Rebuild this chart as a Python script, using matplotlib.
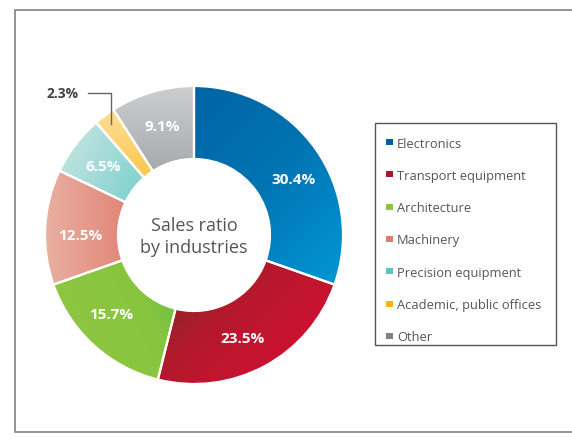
import numpy as np
import matplotlib.pyplot as plt
from matplotlib.colors import LinearSegmentedColormap
from matplotlib.patches import Rectangle

plt.rcParams['font.family'] = ['Open Sans', 'DejaVu Sans']

# data
industries = ['Electronics', 'Transport equipment', 'Architecture', 'Machinery',
              'Precision equipment', 'Academic, public offices', 'Other']
shares = [30.4, 23.5, 15.7, 12.5, 6.5, 2.3, 9.1]
legend_colors = ['#00609c', '#a8182a', '#8dc63f', '#e07b72', '#5bc4c1', '#fdb515', '#808285']

# gradient stops and direction for each wedge
grad_stops = [
    ['#0064a4', '#0074b3', '#0096d3'],
    ['#7a2c1f', '#b4192c', '#cc1230'],
    ['#8dc63f', '#88c540', '#4cb848'],
    ['#e9b0a2', '#e2897b', '#da7062'],
    ['#bce2df', '#86d2cf', '#58c3bf'],
    ['#fedd93', '#fdc750', '#fbb214'],
    ['#cdcecf', '#adaeb0', '#87888a'],
]
grad_dirs = [(1, -1), (1, -1), (1, 0.5), (1, 0), (1, -0.6), (0.3, -1), (0, -1)]
# small nudges of label angle (degrees), as in the original layout
label_nudge = [-6, -3, -4, 3, 0, 0, 0]

W, H = 572, 439
fig = plt.figure(figsize=(W / 100, H / 100), dpi=100)
ax = fig.add_axes([0, 0, 1, 1])

cx, cy = 194, H - 236
R = 149
ring = 73

wedges, _ = ax.pie(shares, startangle=90, counterclock=False, center=(cx, cy), radius=R,
                   wedgeprops=dict(width=ring, edgecolor='white', linewidth=1.6))
ax.set_xlim(0, W)
ax.set_ylim(0, H)
ax.set_aspect('equal')
ax.axis('off')

# gradient fills clipped to each wedge
gx, gy = np.meshgrid(np.linspace(cx - R, cx + R, 400), np.linspace(cy - R, cy + R, 400))
for w, stops, d in zip(wedges, grad_stops, grad_dirs):
    d = np.array(d, float) / np.hypot(*d)
    verts = w.get_path().vertices
    proj = verts @ d
    t = ((gx * d[0] + gy * d[1]) - proj.min()) / (proj.max() - proj.min())
    cmap = LinearSegmentedColormap.from_list('g', stops)
    im = ax.imshow(np.clip(t, 0, 1), cmap=cmap, vmin=0, vmax=1, origin='lower',
                   extent=(cx - R, cx + R, cy - R, cy + R), interpolation='bilinear', zorder=1)
    im.set_clip_path(w)
    w.set_facecolor('none')
    w.set_zorder(2)

# percentage labels
cum = 0
for i, (name, v) in enumerate(zip(industries, shares)):
    mid = np.deg2rad(90 - (cum + v / 2) * 3.6 + label_nudge[i])
    cum += v
    if v < 3:
        # small slice: label outside with leader line
        ex, ey = cx + 0.93 * R * np.cos(mid), cy + 0.93 * R * np.sin(mid)
        ly = ey + 31
        ax.plot([ex - 23, ex, ex], [ly, ly, ey], color='#666666', lw=1, zorder=3)
        ax.text(ex - 32, ly, f'{v}%', ha='right', va='center', fontsize=10,
                fontweight='bold', color='#444444')
    else:
        r = 0.765 * R
        ax.text(cx + r * np.cos(mid), cy + r * np.sin(mid), f'{v}%', ha='center', va='center',
                fontsize=11, fontweight='bold', color='white', zorder=4)

ax.text(cx, cy - 1, 'Sales ratio\nby industries', ha='center', va='center', fontsize=13,
        color='#555555', linespacing=1.3)

# legend box
ax.add_patch(Rectangle((375, H - 346), 181, 222, fill=False, edgecolor='#555555', lw=1))
for i, (name, col) in enumerate(zip(industries, legend_colors)):
    y = H - (144 + i * 32.3)
    ax.add_patch(Rectangle((385.5, y - 2), 7, 6, facecolor=col, edgecolor='none'))
    ax.text(397, y, name, ha='left', va='center', fontsize=9.3, color='#555555')

# outer frame (open on the right)
ax.plot([W + 5, 15, 15, W + 5], [H - 11, H - 11, H - 433, H - 433], color='#8a8a8a', lw=1.3,
        clip_on=False)

fig.savefig('out.png', dpi=100)
